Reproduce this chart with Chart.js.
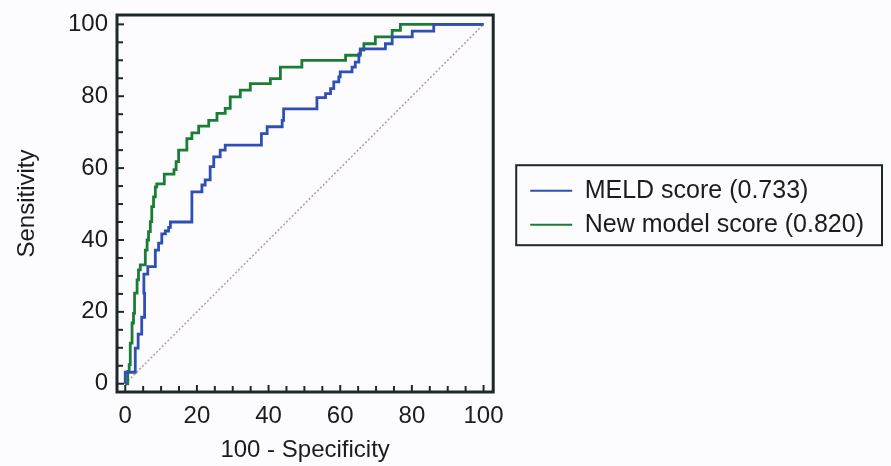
<!DOCTYPE html>
<html>
<head>
<meta charset="utf-8">
<script src="https://cdn.jsdelivr.net/npm/chart.js@4.4.0/dist/chart.umd.min.js"></script>
<style>
  html, body { margin: 0; padding: 0; background: #fcfcfe; }
  #wrap { width: 891px; height: 466px; position: relative; }
</style>
</head>
<body>
<div id="wrap"><canvas id="roc"></canvas></div>
<script>
// ROC points: x = 100 - Specificity, y = Sensitivity
var meldX = [0, 0, 2.8, 3.6, 4.6, 5.4, 5.2, 6.3, 8.4, 9.3, 10.2, 11.2, 12.1, 12.6, 18.6, 21.4, 22.3, 23.7, 24.7, 26.5, 27.9,
             38.0, 39.6, 43.8, 44.2, 53.5, 55.9, 57.3, 58.2, 59.6, 60.0, 63.3, 64.2, 65.2, 65.6, 72.6, 74.5, 80.1, 86.1, 100];
var meldY = [0, 3.2, 9.9, 13.8, 18.5, 25.2, 30.5, 32.6, 37.2, 39.1, 41.7, 42.5, 43.5, 45.0, 53.4, 55.3, 56.7, 60.4, 63.1, 65.0, 66.4,
             69.6, 71.5, 73.3, 76.5, 79.6, 80.7, 82.1, 84.0, 85.4, 86.8, 88.1, 89.5, 91.8, 93.2, 94.6, 96.5, 98.1, 100, 100];

var newX = [0, 0.7, 1.1, 1.4, 1.9, 2.3, 2.6, 3.3, 3.7, 4.2, 5.6, 6.1, 6.5, 7.0, 7.4, 7.9, 8.4, 8.8, 10.9, 13.6, 14.2, 14.9,
            17.2, 18.6, 20.5, 23.3, 25.6, 27.9, 29.3, 32.1, 34.9, 40.5, 43.3, 49.3, 61.5, 65.6, 66.6, 69.8, 74.5, 76.8, 100];
var newY = [0, 3.4, 5.3, 11.3, 16.9, 19.6, 25.2, 28.9, 31.7, 33.1, 37.2, 40.0, 42.3, 45.1, 49.3, 52.0, 54.8, 55.6, 58.3, 59.6, 61.8, 65.0,
            68.2, 69.8, 71.7, 73.3, 75.2, 76.6, 79.8, 81.7, 83.5, 84.9, 88.1, 90.0, 91.4, 92.8, 94.6, 96.5, 98.3, 100, 100];

var refX = [0, 100];
var refY = [0, 100];

var axisTicks = [0, 20, 40, 60, 80, 100];
var seriesNames = ['MELD score (0.733)', 'New model score (0.820)'];

function pts(xs, ys) {
  return xs.map(function (x, i) { return { x: x, y: ys[i] }; });
}

var FONT = "'Liberation Sans', Arial, sans-serif";
var INK = '#1c1c1c';
var FRAME = '#1e2828';

function noPad(s) {
  s.paddingTop = 0; s.paddingBottom = 0; s.paddingLeft = 0; s.paddingRight = 0;
}

// frame + inward minor ticks every 5 units
var framePlugin = {
  id: 'frame',
  afterDatasetsDraw: function (chart) {
    var ctx = chart.ctx, a = chart.chartArea;
    var xs = chart.scales.x, ys = chart.scales.y;
    ctx.save();
    ctx.strokeStyle = FRAME;
    ctx.lineWidth = 2;
    for (var v = 0; v <= 100; v += 5) {
      var len = (v % 20 === 0) ? 7 : 6;
      var px = xs.getPixelForValue(v);
      ctx.beginPath(); ctx.moveTo(px, a.bottom); ctx.lineTo(px, a.bottom - len); ctx.stroke();
      var py = ys.getPixelForValue(v);
      ctx.beginPath(); ctx.moveTo(a.left, py); ctx.lineTo(a.left + len, py); ctx.stroke();
    }
    ctx.lineWidth = 3;
    ctx.strokeRect(a.left, a.top, a.right - a.left, a.bottom - a.top);
    ctx.restore();
  },
  afterDraw: function (chart) {
    var lg = chart.legend;
    if (!lg || !lg.legendHitBoxes.length) return;
    var hb = lg.legendHitBoxes;
    var l = hb[0].left - 14, t = hb[0].top - 13;
    var r = 0, b = hb[hb.length - 1].top + hb[hb.length - 1].height + 8;
    hb.forEach(function (h) { r = Math.max(r, h.left + h.width); });
    r += 18;
    var ctx = chart.ctx;
    ctx.save();
    ctx.strokeStyle = FRAME;
    ctx.lineWidth = 2;
    ctx.strokeRect(l, t, r - l, b - t);
    ctx.restore();
  }
};

new Chart(document.getElementById('roc'), {
  type: 'line',
  data: {
    datasets: [{
      label: seriesNames[0],
      data: pts(meldX, meldY),
      borderColor: '#2f4fb4',
      borderWidth: 2.8,
      stepped: 'before',
      pointRadius: 0,
      fill: false
    }, {
      label: seriesNames[1],
      data: pts(newX, newY),
      borderColor: '#1b7d34',
      borderWidth: 2.8,
      stepped: 'before',
      pointRadius: 0,
      fill: false
    }, {
      label: 'reference',
      data: pts(refX, refY),
      borderColor: '#b29aa8',
      borderWidth: 1.5,
      borderDash: [2, 2],
      pointRadius: 0,
      fill: false
    }]
  },
  options: {
    responsive: true,
    maintainAspectRatio: false,
    animation: false,
    layout: { padding: { top: 15, left: 0, right: 17, bottom: 0 } },
    scales: {
      x: {
        type: 'linear',
        min: -2.3,
        max: 102.7,
        afterBuildTicks: function (s) { s.ticks = axisTicks.map(function (v) { return { value: v }; }); },
        afterFit: function (s) { s.height = 74; noPad(s); },
        grid: { display: false, drawTicks: false },
        border: { display: false },
        ticks: { color: INK, font: { family: FONT, size: 24 }, padding: 10, maxRotation: 0 },
        title: { display: true, text: '100 - Specificity', color: INK, font: { family: FONT, size: 24 }, padding: { top: 0, bottom: 1 } }
      },
      y: {
        type: 'linear',
        min: -2.3,
        max: 102.6,
        afterBuildTicks: function (s) { s.ticks = axisTicks.map(function (v) { return { value: v }; }); },
        afterFit: function (s) { s.width = 117; noPad(s); },
        grid: { display: false, drawTicks: false },
        border: { display: false },
        ticks: { color: INK, font: { family: FONT, size: 24 }, padding: 9 },
        title: { display: true, text: 'Sensitivity', color: INK, font: { family: FONT, size: 24 }, padding: { top: 13, bottom: 0 } }
      },
      gap: {
        type: 'linear',
        position: 'right',
        display: true,
        afterFit: function (s) { s.width = 28; noPad(s); },
        grid: { display: false, drawTicks: false },
        border: { display: false },
        ticks: { display: false }
      }
    },
    plugins: {
      tooltip: { enabled: false },
      legend: {
        position: 'right',
        fullSize: false,
        maxWidth: 400,
        title: { display: true, text: '', font: { size: 7 }, padding: 0 },
        labels: {
          color: INK,
          font: { family: FONT, size: 25 },
          boxWidth: 42,
          boxHeight: 2,
          padding: 9,
          generateLabels: function (chart) {
            return chart.data.datasets.slice(0, 2).map(function (ds, i) {
              return { text: ds.label, fillStyle: ds.borderColor, strokeStyle: ds.borderColor,
                       lineWidth: 0, hidden: false, datasetIndex: i, fontColor: INK };
            });
          }
        }
      }
    }
  },
  plugins: [framePlugin]
});
</script>
</body>
</html>
